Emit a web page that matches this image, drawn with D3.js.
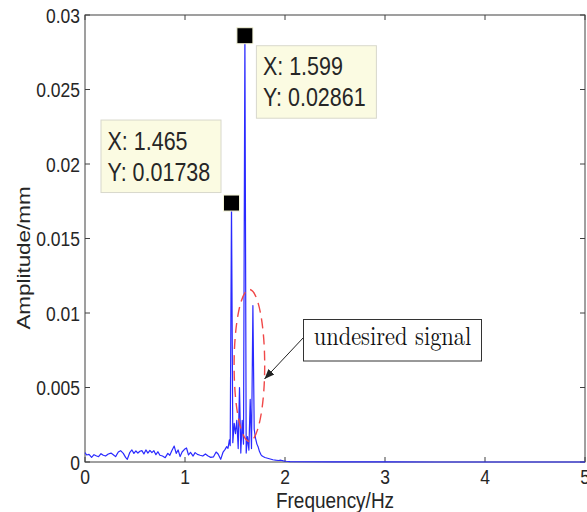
<!DOCTYPE html>
<html>
<head>
<meta charset="utf-8">
<script src="https://cdn.jsdelivr.net/npm/d3@7"></script>
<style>
  body { margin: 0; background: #fff; }
  svg { display: block; }
</style>
</head>
<body>
<div id="main"></div>
<script>
// spectrum (Hz, mm)
const freqHz = [0, 0.017, 0.04, 0.066, 0.09, 0.116, 0.136, 0.16, 0.183, 0.206,
  0.233, 0.26, 0.283, 0.306, 0.333, 0.356, 0.383, 0.406, 0.423, 0.449,
  0.469, 0.489, 0.509, 0.529, 0.549, 0.569, 0.589, 0.609, 0.629, 0.649,
  0.669, 0.689, 0.709, 0.729, 0.749, 0.775, 0.802, 0.828, 0.848, 0.868,
  0.892, 0.912, 0.931, 0.951, 0.971, 0.995, 1.015, 1.035, 1.055, 1.081,
  1.101, 1.124, 1.151, 1.178, 1.204, 1.231, 1.257, 1.284, 1.311, 1.331,
  1.357, 1.381, 1.401, 1.417, 1.430, 1.444,
  1.452, 1.465, 1.478, 1.492, 1.505, 1.518, 1.532, 1.545, 1.558, 1.572,
  1.585, 1.599, 1.612, 1.625, 1.639, 1.652, 1.665, 1.679, 1.692, 1.705,
  1.719, 1.732, 1.745, 1.759, 1.772, 1.785, 1.799, 1.826, 1.852, 1.879,
  1.906, 1.932, 1.959, 1.986, 2.012, 2.05, 2.5, 3.0, 3.5, 4.0, 4.5, 5.0];
const ampMm = [0.00063, 0.00047, 0.00051, 0.00031, 0.00049, 0.00040, 0.00036, 0.00056, 0.00045, 0.00040,
  0.00054, 0.00060, 0.00049, 0.00036, 0.00067, 0.00076, 0.00058, 0.00031, 0.00018, 0.00065,
  0.00081, 0.00058, 0.00074, 0.00060, 0.00072, 0.00076, 0.00054, 0.00081, 0.00060, 0.00078,
  0.00063, 0.00076, 0.00049, 0.00069, 0.00045, 0.00040, 0.00029, 0.00058, 0.00045, 0.00076,
  0.00107, 0.00058, 0.00081, 0.00036, 0.00067, 0.00085, 0.00094, 0.00047, 0.00065, 0.00040,
  0.00063, 0.00051, 0.00045, 0.00040, 0.00054, 0.00040, 0.00031, 0.00034, 0.00067, 0.00054,
  0.00018, 0.00067, 0.00085, 0.00103, 0.00092, 0.00148,
  0.0011, 0.01738, 0.0013, 0.0026, 0.0019, 0.0028, 0.0009, 0.0050, 0.0006, 0.0028,
  0.0012, 0.02861, 0.0006, 0.0017, 0.0008, 0.0042, 0.0009, 0.0105, 0.0022, 0.0016,
  0.0012, 0.0010, 0.0007, 0.0005, 0.0004, 0.00035, 0.0003, 0.00025, 0.0002, 0.00015,
  0.00012, 0.0001, 0.00012, 0.00008, 0.00005, 0.00002, 0.00001, 0.00001, 0, 0, 0, 0];

const xTicks = [0, 1, 2, 3, 4, 5];
const yTicks = [0, 0.005, 0.01, 0.015, 0.02, 0.025, 0.03];
const yTickLabels = ["0", "0.005", "0.01", "0.015", "0.02", "0.025", "0.03"];

// data tips: [x, y, side]
const tipX = [1.599, 1.465];
const tipY = [0.02861, 0.01738];
const tipSide = ["right", "left"];

const note = "undesired signal";

const W = 587, H = 512;
const SY = 1.18; // picture is a bit taller than wide
const FONT = "'Liberation Sans', Arial, Helvetica, sans-serif";
const AX = "#404040";

const x = d3.scaleLinear().domain([0, 5]).range([85, 585]);
const y = d3.scaleLinear().domain([0, 0.03]).range([462, 15]);

const svg = d3.select("#main").append("svg")
  .attr("width", W).attr("height", H);

function label(parent, px, py, str, size, anchor, extra) {
  const g = parent.append("g")
    .attr("transform", `translate(${px},${py}) ` + (extra || `scale(1,${SY})`));
  return g.append("text")
    .attr("font-family", FONT)
    .attr("font-size", size)
    .attr("text-anchor", anchor)
    .attr("fill", "#262626")
    .text(str);
}

// frame
svg.append("rect")
  .attr("x", x(0)).attr("y", y(0.03))
  .attr("width", x(5) - x(0)).attr("height", y(0) - y(0.03))
  .attr("fill", "none").attr("stroke", AX).attr("stroke-width", 1);

// ticks inside, on all four sides
const tk = svg.append("g").attr("stroke", AX).attr("stroke-width", 1);
xTicks.forEach(t => {
  tk.append("line").attr("x1", x(t)).attr("x2", x(t)).attr("y1", y(0)).attr("y2", y(0) - 5);
  tk.append("line").attr("x1", x(t)).attr("x2", x(t)).attr("y1", y(0.03)).attr("y2", y(0.03) + 5);
});
yTicks.forEach(t => {
  tk.append("line").attr("x1", x(0)).attr("x2", x(0) + 5).attr("y1", y(t)).attr("y2", y(t));
  tk.append("line").attr("x1", x(5)).attr("x2", x(5) - 5).attr("y1", y(t)).attr("y2", y(t));
});

xTicks.forEach(t => label(svg, x(t), 484, String(t), 17.5, "middle"));
yTicks.forEach((t, i) => label(svg, 80, y(t) + 7.5, yTickLabels[i], 17.5, "end"));

label(svg, 335, 507.5, "Frequency/Hz", 19, "middle");
label(svg, 30, 258, "Amplitude/mm", 19, "middle", `rotate(-90) scale(${SY},1)`);

// spectrum line
const pts = freqHz.map((f, i) => [f, ampMm[i]]);
svg.append("path")
  .datum(pts)
  .attr("fill", "none")
  .attr("stroke", "#2a2aff")
  .attr("stroke-width", 1.2)
  .attr("stroke-linejoin", "round")
  .attr("d", d3.line().x(d => x(d[0])).y(d => y(d[1])));

// red dashed ellipse round the side peaks
svg.append("ellipse")
  .attr("cx", x(1.644)).attr("cy", y(0.00648))
  .attr("rx", x(0.153) - x(0)).attr("ry", y(0) - y(0.0051))
  .attr("fill", "none")
  .attr("stroke", "#f04848")
  .attr("stroke-width", 1.4)
  .attr("stroke-dasharray", "10,6");

// annotation box + arrow
svg.append("defs").append("marker")
  .attr("id", "head").attr("viewBox", "0 0 10 10")
  .attr("refX", 10).attr("refY", 5)
  .attr("markerWidth", 10).attr("markerHeight", 10)
  .attr("markerUnits", "userSpaceOnUse")
  .attr("orient", "auto")
  .append("path").attr("d", "M0,1 L10,5 L0,9 Z").attr("fill", "#222");

svg.append("line")
  .attr("x1", 303.5).attr("y1", 337.5).attr("x2", 264.5).attr("y2", 379)
  .attr("stroke", "#222").attr("stroke-width", 1)
  .attr("marker-end", "url(#head)");

svg.append("rect")
  .attr("x", 303.5).attr("y", 319.5).attr("width", 178).attr("height", 41.5)
  .attr("fill", "#fff").attr("stroke", "#333").attr("stroke-width", 1);
label(svg, 392.5, 345, note, 22.5, "middle")
  .attr("font-family", "'Latin Modern Roman', 'CMU Serif', 'Liberation Serif', 'DejaVu Serif', serif")
  .attr("fill", "#111");

// data tips
tipX.forEach((tx, i) => {
  const px = x(tx), py = y(tipY[i]);
  const bw = 120, bh = 72.5;
  const bx = tipSide[i] === "right" ? px + 11 : px - 11 - bw;
  const by = tipSide[i] === "right" ? py + 9.5 : py - 11 - bh;
  svg.append("rect")
    .attr("x", bx + 0.5).attr("y", by + 0.5).attr("width", bw).attr("height", bh)
    .attr("fill", "#fbfbe2").attr("stroke", "#d8d8cc").attr("stroke-width", 1);
  label(svg, bx + 7, by + 30, "X: " + tx, 21.5, "start");
  label(svg, bx + 7, by + 61, "Y: " + tipY[i], 21.5, "start");
  svg.append("rect")
    .attr("x", px - 8).attr("y", py - 8).attr("width", 16).attr("height", 16)
    .attr("fill", "#000").attr("stroke", "#f4f4d8").attr("stroke-width", 1);
});
</script>
</body>
</html>
